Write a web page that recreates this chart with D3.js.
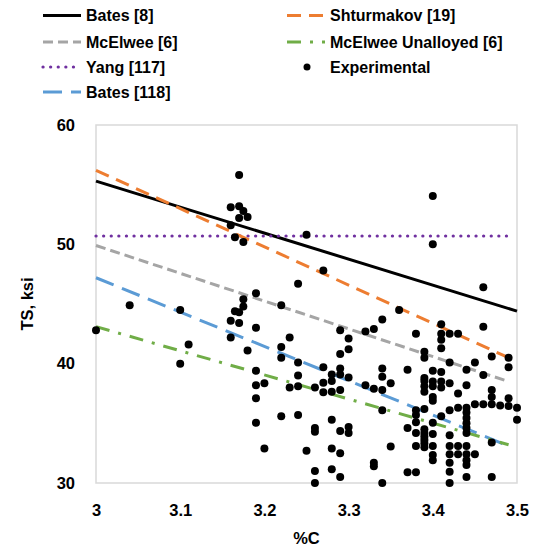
<!DOCTYPE html>
<html>
<head>
<meta charset="utf-8">
<script src="https://cdn.jsdelivr.net/npm/d3@7"></script>
<style>
  body { margin: 0; background: #fff; }
  text { font-family: "Liberation Sans", Arial, sans-serif; font-weight: bold; fill: #000; }
</style>
</head>
<body>
<script>
// Model fits: name, colour, dash and two end points [%C, TS]
const modelNames = ['Bates [8]', 'McElwee [6]', 'Yang [117]', 'Bates [118]', 'Shturmakov [19]', 'McElwee Unalloyed [6]'];
const modelStart = [[3.0, 55.3], [3.0, 49.9], [3.0, 50.7], [3.0, 47.2], [3.0, 56.2], [3.0, 43.1]];
const modelEnd = [[3.5, 44.4], [3.49, 38.5], [3.49, 50.7], [3.49, 33.1], [3.49, 40.5], [3.49, 33.2]];

// Experimental points
const carbon = [
  3.00, 3.04, 3.10, 3.11, 3.10, 3.17, 3.16, 3.17, 3.175, 3.17, 3.18, 3.16, 3.165, 3.175, 3.25, 3.24,
  3.19, 3.175, 3.175, 3.22, 3.165, 3.17, 3.16, 3.17, 3.16, 3.19, 3.23, 3.22, 3.22, 3.18, 3.24, 3.24,
  3.24, 3.23, 3.19, 3.19, 3.20, 3.19, 3.19, 3.20, 3.22, 3.24, 3.25,
  3.40, 3.40, 3.27, 3.46, 3.36, 3.34, 3.33, 3.32, 3.29, 3.30, 3.30, 3.29, 3.27, 3.29, 3.29, 3.28,
  3.30, 3.28, 3.27, 3.34, 3.34, 3.35, 3.34, 3.33, 3.32, 3.37, 3.26, 3.27, 3.28, 3.29,
  3.26, 3.26, 3.28, 3.29, 3.30, 3.30, 3.28, 3.29, 3.26, 3.26, 3.28, 3.29, 3.33, 3.33, 3.34, 3.35,
  3.34, 3.37, 3.37, 3.38, 3.38, 3.38, 3.38, 3.39, 3.38, 3.38,
  3.39, 3.39, 3.39, 3.39, 3.39, 3.39, 3.40, 3.40, 3.40, 3.40, 3.40,
  3.39, 3.39, 3.39, 3.39, 3.40, 3.41, 3.40, 3.40, 3.40, 3.40, 3.41, 3.41, 3.42, 3.43, 3.42, 3.43,
  3.44, 3.44, 3.44, 3.44, 3.44, 3.44, 3.45, 3.46, 3.47, 3.48, 3.49, 3.47, 3.47, 3.49, 3.50, 3.50,
  3.42, 3.42, 3.42, 3.42, 3.42, 3.42, 3.43, 3.43, 3.44, 3.44, 3.44, 3.44, 3.45, 3.47, 3.47, 3.44,
  3.38, 3.41, 3.41, 3.41, 3.41, 3.42, 3.43, 3.46, 3.39, 3.39, 3.42, 3.45, 3.44, 3.46, 3.47, 3.49,
  3.49, 3.41, 3.44
];
const strength = [
  42.8, 44.9, 44.5, 41.6, 40.0, 55.8, 53.1, 53.2, 52.8, 52.2, 52.3, 51.6, 50.6, 50.2, 50.8, 46.7,
  45.9, 45.4, 44.8, 44.9, 44.4, 44.3, 43.6, 43.4, 42.2, 43.0, 42.2, 41.4, 40.5, 41.1, 40.1, 39.0,
  38.1, 38.0, 39.4, 38.2, 38.35, 37.1, 35.05, 32.9, 35.6, 35.7, 32.7,
  54.05, 50.0, 47.8, 46.4, 44.5, 43.7, 42.9, 42.7, 42.8, 42.1, 41.2, 40.8, 39.7, 39.6, 39.1, 39.1,
  38.85, 38.55, 38.4, 39.6, 38.9, 38.35, 37.8, 37.9, 38.2, 39.5, 38.0, 37.6, 37.65, 37.8,
  34.6, 34.3, 35.3, 34.35, 34.7, 34.2, 32.9, 32.5, 31.0, 30.0, 31.15, 30.5, 31.7, 31.4, 30.0, 33.05,
  36.1, 34.6, 30.9, 30.9, 35.7, 35.1, 36.1, 36.2, 34.2, 33.1,
  34.5, 34.2, 33.9, 33.6, 33.3, 33.0, 35.05, 34.1, 33.1, 32.35, 31.9,
  38.8, 38.55, 38.1, 37.65, 39.4, 39.3, 38.5, 38.1, 37.2, 36.9, 38.5, 38.0, 38.35, 37.5, 36.1, 36.3,
  36.3, 35.9, 35.45, 35.0, 34.6, 34.2, 36.6, 36.6, 36.6, 36.5, 36.45, 37.8, 37.2, 37.1, 36.3, 35.3,
  34.0, 33.1, 32.4, 31.7, 30.95, 30.0, 33.1, 32.4, 33.1, 32.4, 31.9, 31.5, 32.4, 33.4, 30.5, 30.5,
  42.5, 43.3, 42.5, 42.0, 41.3, 42.5, 42.5, 43.1, 41.0, 40.5, 40.1, 40.1, 39.5, 39.05, 40.6, 40.5,
  39.7, 35.6, 38.2
];

const xTicks = [3, 3.1, 3.2, 3.3, 3.4, 3.5];
const yTicks = [30, 40, 50, 60];

const styles = [
  { color: '#000000', dash: null },
  { color: '#a5a5a5', dash: '10 5' },
  { color: '#7030a0', dash: '0.1 7.5', cap: 'round', width: 3.2 },
  { color: '#5b9bd5', dash: '19 9' },
  { color: '#ed7d31', dash: '14 8' },
  { color: '#70ad47', dash: '14 9 3 9' }
];

const W = 555, H = 549;
const plot = { left: 96, right: 517, top: 125, bottom: 483 };

const svg = d3.select('body').append('svg')
  .attr('width', W)
  .attr('height', H);

const x = d3.scaleLinear().domain([3, 3.5]).range([plot.left, plot.right]);
const y = d3.scaleLinear().domain([30, 60]).range([plot.bottom, plot.top]);

// plot frame
svg.append('rect')
  .attr('x', plot.left)
  .attr('y', plot.top)
  .attr('width', plot.right - plot.left)
  .attr('height', plot.bottom - plot.top)
  .attr('fill', 'none')
  .attr('stroke', '#d9d9d9')
  .attr('stroke-width', 1.5);

// axes (labels only, Excel style)
const xAxis = svg.append('g')
  .attr('transform', `translate(0,${plot.bottom})`)
  .call(d3.axisBottom(x).tickValues(xTicks).tickSize(0).tickPadding(21).tickFormat(d3.format('')));
const yAxis = svg.append('g')
  .attr('transform', `translate(${plot.left},0)`)
  .call(d3.axisLeft(y).tickValues(yTicks).tickSize(0).tickPadding(21));
[xAxis, yAxis].forEach(g => {
  g.select('.domain').remove();
  g.selectAll('text').attr('font-size', 16.5).attr('font-family', null).attr('fill', '#000');
});

svg.append('text')
  .attr('x', (plot.left + plot.right) / 2)
  .attr('y', 544)
  .attr('text-anchor', 'middle')
  .attr('font-size', 16.5)
  .text('%C');

svg.append('text')
  .attr('transform', `translate(33,${(plot.top + plot.bottom) / 2}) rotate(-90)`)
  .attr('text-anchor', 'middle')
  .attr('font-size', 16.5)
  .text('TS, ksi');

// model lines
const line = d3.line().x(d => x(d[0])).y(d => y(d[1]));
svg.append('g')
  .selectAll('path')
  .data(modelNames.map((n, i) => [modelStart[i], modelEnd[i]]))
  .join('path')
  .attr('d', line)
  .attr('fill', 'none')
  .attr('stroke', (d, i) => styles[i].color)
  .attr('stroke-width', (d, i) => styles[i].width || 3)
  .attr('stroke-dasharray', (d, i) => styles[i].dash)
  .attr('stroke-linecap', (d, i) => styles[i].cap || 'butt');

// experimental points
svg.append('g')
  .selectAll('circle')
  .data(carbon.map((c, i) => [c, strength[i]]))
  .join('circle')
  .attr('cx', d => x(d[0]))
  .attr('cy', d => y(d[1]))
  .attr('r', 4)
  .attr('fill', '#000');

// legend
const legendRows = [15.5, 42, 67, 92];
const legendCols = [43, 287];
const legendItems = modelNames.map((n, i) => ({ name: n, style: styles[i] }));
legendItems.push({ name: 'Experimental', marker: true });
const lg = svg.append('g');
legendItems.forEach((item, j) => {
  const col = j < 4 ? 0 : 1;
  const row = j < 4 ? j : j - 4;
  const lx = legendCols[col];
  const ly = legendRows[row];
  if (item.marker) {
    lg.append('circle').attr('cx', lx + 20).attr('cy', ly).attr('r', 3.5).attr('fill', '#000');
  } else {
    lg.append('line')
      .attr('x1', lx).attr('x2', lx + 38)
      .attr('y1', ly).attr('y2', ly)
      .attr('stroke', item.style.color)
      .attr('stroke-width', item.style.width || 3)
      .attr('stroke-dasharray', item.style.dash)
      .attr('stroke-linecap', item.style.cap || 'butt');
  }
  lg.append('text')
    .attr('x', lx + 43)
    .attr('y', ly)
    .attr('dy', '0.35em')
    .attr('font-size', 16)
    .text(item.name);
});
</script>
</body>
</html>
